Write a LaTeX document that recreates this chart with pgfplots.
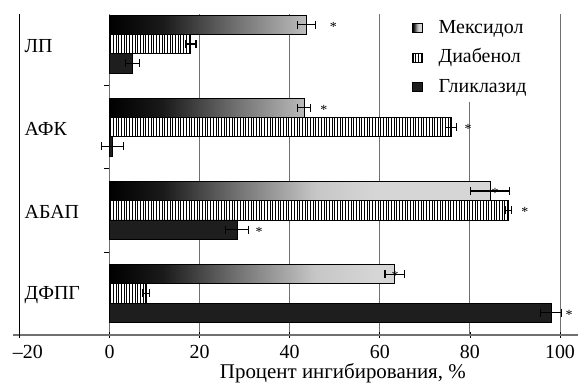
\documentclass[border=0pt]{standalone}
\usepackage{fontspec}
\setmainfont{Liberation Serif}
\usepackage{pgfplots}
\pgfplotsset{compat=1.18}
\usetikzlibrary{patterns.meta}
\definecolor{gridgray}{HTML}{707070}
\definecolor{glidark}{HTML}{1E1E1E}
\definecolor{mexlight}{HTML}{D6D6D6}
\definecolor{mexa}{HTML}{1A1A1A}
\definecolor{mexb}{HTML}{747474}
\definecolor{mexc}{HTML}{C6C6C6}
\pgfdeclarehorizontalshading{mexgrad}{100bp}{color(0bp)=(black); color(25bp)=(black); color(32bp)=(mexa); color(42bp)=(mexb); color(52bp)=(mexc); color(60bp)=(mexlight); color(100bp)=(mexlight)}
\begin{document}
\begin{tikzpicture}
\begin{axis}[
  name=ax,
  scale only axis,
  width=565bp, height=321bp,
  xmin=-21.42, xmax=104.0,
  ymin=0.5, ymax=4.361,
  axis x line=bottom,
  axis y line=none,
  x axis line style={-, draw=gridgray, line width=1.3bp},
  xtick={0,20,40,60,80,100},
  extra x ticks={-20},
  extra x tick labels={\hspace*{17bp}–20},
  extra x tick style={grid style={black, line width=0.8bp}},
  xmajorgrids,
  grid style={gridgray, line width=0.8bp},
  tick align=center,
  major tick length=6bp,
  tick style={black, line width=0.6bp},
  xticklabel style={font=\fontsize{20}{24}\selectfont, inner sep=0pt, yshift=-7bp},
  /pgf/number format/assume math mode=true,
  clip=false,
  legend style={at={(axis cs:65.8,4.373)}, anchor=north west, draw=none, fill=white,
    font=\fontsize{20}{24}\selectfont, inner xsep=6bp, inner ysep=6bp, row sep=11.5bp, column sep=16bp,
    nodes={inner sep=0pt, text height=14bp, text depth=4bp}},
  legend cell align=left,
  legend image code/.code={\draw[#1, line width=0.6bp] (0bp,-4.5bp) rectangle (10bp,4.5bp);},
]
\addplot[xbar, bar width=0.232, bar shift=0.232, draw=black, line width=0.8bp, shade, shading=mexgrad]
  coordinates {(43.7,4) (43.2,3) (84.5,2) (63.3,1)};
\addlegendentry{Мексидол}
\addplot[xbar, bar width=0.232, bar shift=0, draw=black, line width=0.8bp, fill=white,
  postaction={pattern={Lines[angle=90,distance=2.7bp,line width=0.9bp]}}]
  coordinates {(18.0,4) (75.8,3) (88.6,2) (8.1,1)};
\addlegendentry{Диабенол}
\addplot[xbar, bar width=0.232, bar shift=-0.232, draw=black, line width=0.8bp, fill=glidark]
  coordinates {(5.1,4) (0.7,3) (28.3,2) (98.0,1)};
\addlegendentry{Гликлазид}
\addplot[forget plot, draw=none, mark=none,
  error bars/.cd, x dir=both, x explicit,
  error bar style={draw=black, line width=1.2bp},
  error mark=|,
  error mark options={draw=black, line width=1.2bp, mark size=4bp}]
  coordinates {
  (43.7,4.232) +- (2.0,0)  (18.0,4) +- (1.2,0)  (5.1,3.768) +- (1.6,0)
  (43.2,3.232) +- (1.5,0)  (75.8,3) +- (1.2,0)  (0.7,2.768) +- (2.4,0)
  (84.5,2.232) +- (4.3,0)  (88.6,2) +- (0.7,0)  (28.3,1.768) +- (2.6,0)
  (63.3,1.232) +- (2.15,0) (8.1,1) +- (0.8,0)   (98.0,0.768) +- (2.25,0)};
% significance stars
\begin{scope}[every node/.style={font=\fontsize{14}{14}\selectfont, inner sep=0pt, yshift=-2bp}]
\node at (axis cs:49.7,4.232) {*};
\node at (axis cs:47.6,3.232) {*};
\node at (axis cs:79.6,3) {*};
\node at (axis cs:85.6,2.232) {*};
\node at (axis cs:92.2,2) {*};
\node at (axis cs:33.2,1.768) {*};
\node at (axis cs:63.4,1.232) {*};
\node at (axis cs:102.0,0.768) {*};
\end{scope}
% category boundary ticks
\draw[black, line width=0.6bp] (axis cs:0,1.5) -- ++(-5bp,0bp);
\draw[black, line width=0.6bp] (axis cs:0,2.5) -- ++(-5bp,0bp);
\draw[black, line width=0.6bp] (axis cs:0,3.5) -- ++(-5bp,0bp);
% category labels
\begin{scope}[every node/.style={font=\fontsize{20}{24}\selectfont, inner sep=0pt, anchor=west, yshift=-2bp}]
\node at (axis cs:-18.87,4) {ЛП};
\node at (axis cs:-18.87,3) {АФК};
\node at (axis cs:-18.87,2) {АБАП};
\node at (axis cs:-18.87,1) {ДФПГ};
\end{scope}
\node[anchor=base, inner sep=0pt, font=\fontsize{21}{24}\selectfont, yshift=-43.5bp] at (axis cs:51.8,0.5) {Процент ингибирования, \%};
\end{axis}
\pgfresetboundingbox
\useasboundingbox ([xshift=-13bp,yshift=-50bp]ax.south west) rectangle ([yshift=14bp]ax.north east);
\end{tikzpicture}
\end{document}
